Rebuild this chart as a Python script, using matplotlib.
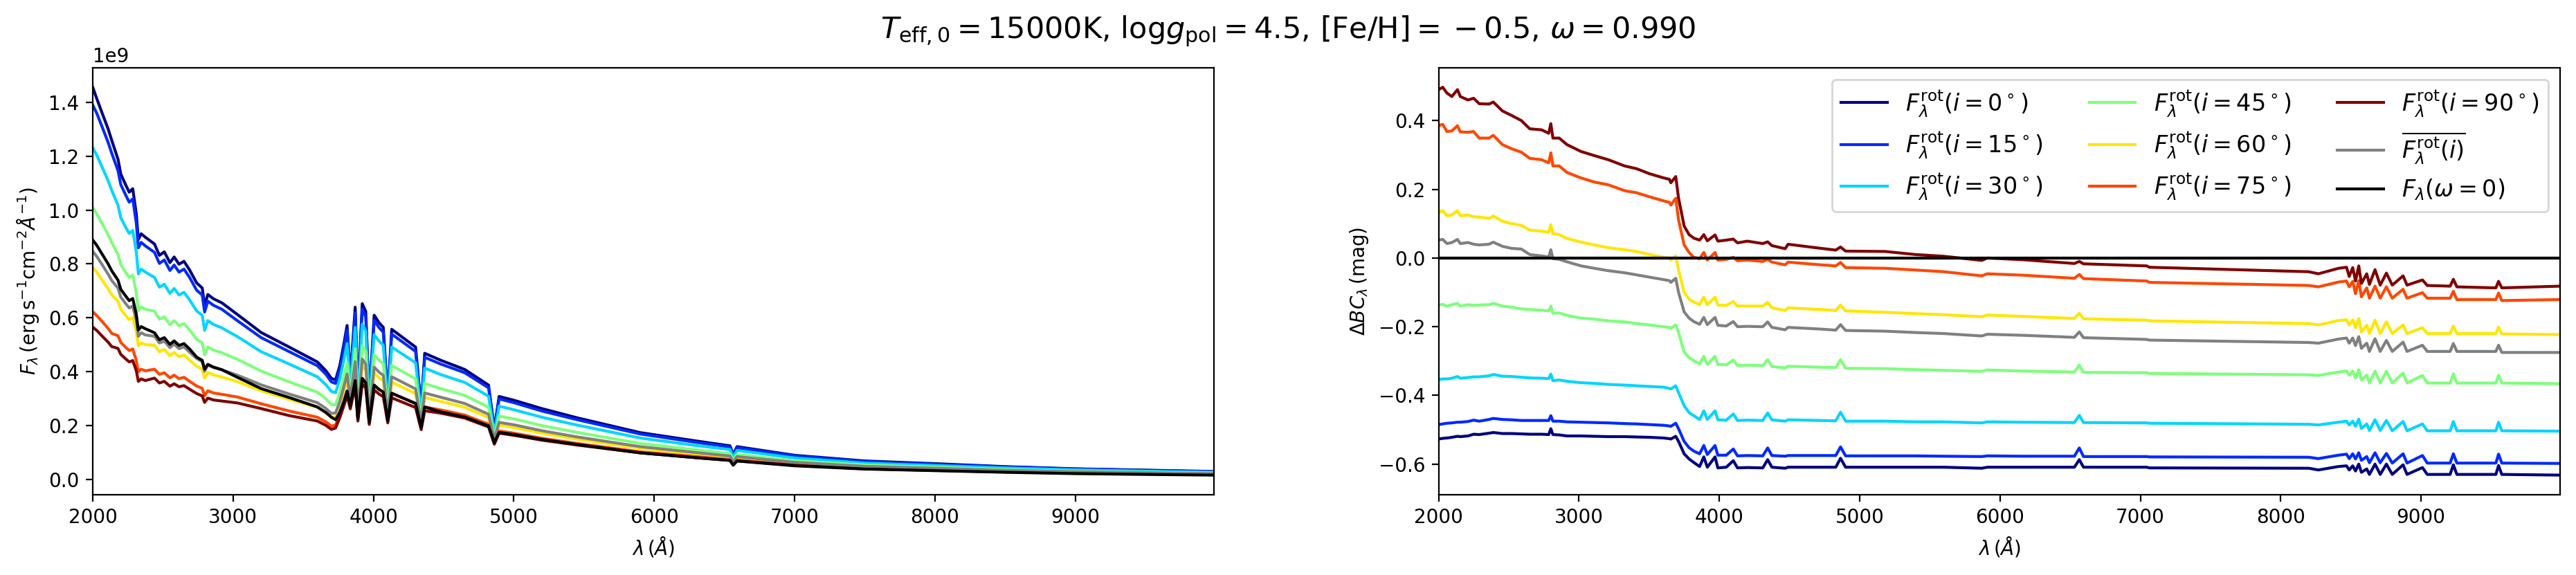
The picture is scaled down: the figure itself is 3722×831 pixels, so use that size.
import matplotlib
matplotlib.use("Agg")
import matplotlib.pyplot as plt
import numpy as np

# ---------------- left panel: fluxes (units of 1e9) ----------------
lam_f = [2000, 2030, 2070, 2110, 2135, 2180, 2200, 2235, 2260, 2285,
         2310, 2325, 2345, 2375, 2440, 2475, 2510, 2550, 2580, 2615,
         2650, 2690, 2740, 2780, 2797, 2820, 2860, 2920, 3030, 3200,
         3400, 3600, 3660, 3700, 3730, 3760, 3790, 3812, 3835, 3870,
         3889, 3920, 3945, 3970, 4005, 4040, 4070, 4102, 4130, 4300,
         4340, 4365, 4480, 4650, 4820, 4861, 4895, 5000, 5200, 5450,
         5900, 6300, 6540, 6563, 6590, 7000, 7500, 8000, 8500, 9000,
         9500, 9990]

f_i0 = [1.455, 1.411, 1.355, 1.300, 1.259, 1.188, 1.133, 1.093, 1.066, 1.079,
        0.987, 0.891, 0.912, 0.899, 0.874, 0.832, 0.845, 0.805, 0.826, 0.799,
        0.810, 0.778, 0.730, 0.711, 0.646, 0.687, 0.671, 0.656, 0.613, 0.546,
        0.492, 0.437, 0.405, 0.376, 0.370, 0.423, 0.506, 0.572, 0.375, 0.640,
        0.311, 0.653, 0.624, 0.293, 0.610, 0.582, 0.565, 0.301, 0.558, 0.492,
        0.266, 0.469, 0.443, 0.409, 0.351, 0.189, 0.309, 0.295, 0.264, 0.230,
        0.175, 0.144, 0.126, 0.094, 0.123, 0.091, 0.070, 0.060, 0.049, 0.041,
        0.036, 0.031]
f_i15 = [1.389, 1.357, 1.304, 1.250, 1.211, 1.146, 1.094, 1.055, 1.029, 1.041,
         0.953, 0.860, 0.880, 0.867, 0.843, 0.802, 0.815, 0.776, 0.796, 0.770,
         0.781, 0.750, 0.703, 0.685, 0.622, 0.662, 0.647, 0.632, 0.590, 0.527,
         0.475, 0.423, 0.392, 0.363, 0.357, 0.409, 0.490, 0.554, 0.367, 0.619,
         0.304, 0.633, 0.604, 0.287, 0.591, 0.564, 0.547, 0.295, 0.540, 0.476,
         0.260, 0.454, 0.429, 0.397, 0.341, 0.185, 0.300, 0.286, 0.255, 0.223,
         0.170, 0.139, 0.122, 0.091, 0.119, 0.089, 0.068, 0.058, 0.048, 0.040,
         0.035, 0.030]
f_i30 = [1.231, 1.202, 1.155, 1.108, 1.073, 1.018, 0.971, 0.936, 0.913, 0.924,
         0.846, 0.763, 0.781, 0.770, 0.750, 0.714, 0.725, 0.691, 0.709, 0.685,
         0.695, 0.667, 0.626, 0.610, 0.554, 0.590, 0.576, 0.563, 0.531, 0.475,
         0.429, 0.382, 0.353, 0.328, 0.323, 0.372, 0.446, 0.505, 0.343, 0.565,
         0.284, 0.577, 0.551, 0.268, 0.538, 0.514, 0.499, 0.275, 0.492, 0.434,
         0.243, 0.414, 0.390, 0.361, 0.310, 0.173, 0.273, 0.260, 0.232, 0.203,
         0.155, 0.127, 0.112, 0.083, 0.109, 0.081, 0.062, 0.053, 0.044, 0.037,
         0.032, 0.028]
f_i45 = [1.009, 0.985, 0.947, 0.908, 0.880, 0.835, 0.797, 0.769, 0.750, 0.759,
         0.694, 0.627, 0.641, 0.632, 0.625, 0.595, 0.604, 0.575, 0.590, 0.571,
         0.579, 0.556, 0.521, 0.508, 0.463, 0.492, 0.481, 0.471, 0.447, 0.403,
         0.363, 0.325, 0.301, 0.279, 0.278, 0.322, 0.385, 0.435, 0.315, 0.486,
         0.261, 0.497, 0.475, 0.246, 0.464, 0.443, 0.430, 0.253, 0.424, 0.374,
         0.223, 0.357, 0.338, 0.313, 0.269, 0.159, 0.236, 0.226, 0.201, 0.176,
         0.135, 0.111, 0.097, 0.072, 0.094, 0.071, 0.055, 0.047, 0.038, 0.032,
         0.028, 0.025]
f_i60 = [0.787, 0.768, 0.738, 0.708, 0.686, 0.662, 0.632, 0.609, 0.594, 0.601,
         0.550, 0.497, 0.508, 0.501, 0.499, 0.475, 0.483, 0.460, 0.472, 0.456,
         0.463, 0.444, 0.421, 0.410, 0.377, 0.398, 0.389, 0.381, 0.364, 0.330,
         0.298, 0.269, 0.250, 0.232, 0.234, 0.274, 0.329, 0.371, 0.290, 0.415,
         0.241, 0.425, 0.405, 0.227, 0.396, 0.378, 0.367, 0.233, 0.362, 0.320,
         0.206, 0.305, 0.291, 0.269, 0.231, 0.146, 0.203, 0.194, 0.173, 0.151,
         0.117, 0.096, 0.084, 0.063, 0.082, 0.062, 0.048, 0.040, 0.033, 0.028,
         0.025, 0.021]
f_i75 = [0.623, 0.608, 0.585, 0.561, 0.543, 0.534, 0.509, 0.491, 0.479, 0.485,
         0.443, 0.400, 0.410, 0.404, 0.410, 0.391, 0.397, 0.378, 0.388, 0.375,
         0.380, 0.365, 0.348, 0.339, 0.312, 0.330, 0.322, 0.317, 0.307, 0.282,
         0.255, 0.232, 0.215, 0.199, 0.203, 0.242, 0.291, 0.329, 0.271, 0.368,
         0.225, 0.376, 0.359, 0.212, 0.351, 0.335, 0.325, 0.218, 0.321, 0.283,
         0.192, 0.270, 0.259, 0.240, 0.206, 0.137, 0.181, 0.173, 0.154, 0.135,
         0.104, 0.086, 0.075, 0.057, 0.073, 0.056, 0.043, 0.037, 0.030, 0.026,
         0.022, 0.020]
f_i90 = [0.566, 0.553, 0.531, 0.510, 0.494, 0.487, 0.465, 0.448, 0.437, 0.442,
         0.405, 0.365, 0.374, 0.368, 0.377, 0.359, 0.365, 0.347, 0.356, 0.345,
         0.349, 0.336, 0.320, 0.311, 0.287, 0.303, 0.296, 0.292, 0.285, 0.264,
         0.238, 0.218, 0.202, 0.187, 0.192, 0.230, 0.276, 0.312, 0.263, 0.349,
         0.218, 0.356, 0.340, 0.205, 0.333, 0.318, 0.308, 0.211, 0.304, 0.268,
         0.186, 0.256, 0.247, 0.229, 0.196, 0.132, 0.173, 0.165, 0.147, 0.129,
         0.100, 0.082, 0.072, 0.054, 0.070, 0.054, 0.041, 0.035, 0.029, 0.025,
         0.022, 0.019]
f_mean = [0.847, 0.827, 0.795, 0.762, 0.739, 0.710, 0.677, 0.653, 0.637, 0.644,
          0.590, 0.532, 0.545, 0.537, 0.532, 0.507, 0.514, 0.490, 0.503, 0.486,
          0.493, 0.473, 0.450, 0.438, 0.402, 0.426, 0.416, 0.408, 0.388, 0.352,
          0.318, 0.286, 0.265, 0.246, 0.248, 0.289, 0.347, 0.392, 0.299, 0.438,
          0.247, 0.448, 0.428, 0.233, 0.418, 0.399, 0.387, 0.240, 0.382, 0.337,
          0.211, 0.322, 0.306, 0.283, 0.243, 0.150, 0.213, 0.204, 0.182, 0.159,
          0.123, 0.101, 0.088, 0.066, 0.086, 0.065, 0.050, 0.043, 0.035, 0.030,
          0.026, 0.023]
f_norot = [0.889, 0.868, 0.834, 0.800, 0.775, 0.740, 0.706, 0.681, 0.664, 0.672,
           0.615, 0.555, 0.568, 0.560, 0.545, 0.519, 0.527, 0.502, 0.515, 0.498,
           0.505, 0.485, 0.455, 0.443, 0.410, 0.428, 0.418, 0.408, 0.380, 0.338,
           0.305, 0.270, 0.250, 0.232, 0.223, 0.250, 0.291, 0.329, 0.274, 0.368,
           0.227, 0.376, 0.359, 0.214, 0.351, 0.335, 0.325, 0.220, 0.321, 0.283,
           0.194, 0.270, 0.252, 0.233, 0.200, 0.138, 0.176, 0.168, 0.150, 0.131,
           0.100, 0.082, 0.072, 0.055, 0.070, 0.052, 0.040, 0.034, 0.028, 0.023,
           0.020, 0.0175]

# ---------------- right panel: Delta BC (mag) ----------------
lam_bc = [2000, 2030, 2060, 2095, 2135, 2155, 2210, 2250, 2290, 2360,
          2390, 2455, 2520, 2590, 2650, 2735, 2785, 2800, 2815, 2860,
          2915, 3015, 3110, 3210, 3325, 3410, 3505, 3605, 3645, 3655,
          3690, 3710, 3750, 3785, 3818, 3860, 3890, 3915, 3970, 3990,
          4050, 4100, 4130, 4200, 4310, 4345, 4375, 4470, 4490, 4725,
          4830, 4864, 4900, 5180, 5400, 5600, 5870, 5910, 6160, 6530,
          6565, 6595, 7045, 7065, 8200, 8268, 8412, 8469, 8488, 8513,
          8533, 8556, 8575, 8613, 8632, 8672, 8709, 8753, 8795, 8872,
          8900, 9010, 9044, 9207, 9230, 9255, 9533, 9552, 9575, 9990]

bc_i0 = [-0.527, -0.525, -0.524, -0.522, -0.519, -0.520, -0.518, -0.513, -0.514, -0.510,
         -0.508, -0.511, -0.511, -0.512, -0.513, -0.513, -0.514, -0.497, -0.514, -0.515,
         -0.518, -0.518, -0.519, -0.520, -0.520, -0.521, -0.522, -0.524, -0.526, -0.527,
         -0.519, -0.534, -0.570, -0.585, -0.595, -0.607, -0.579, -0.609, -0.579, -0.611,
         -0.609, -0.590, -0.611, -0.610, -0.611, -0.587, -0.609, -0.612, -0.609, -0.609,
         -0.609, -0.583, -0.609, -0.609, -0.609, -0.609, -0.612, -0.609, -0.609, -0.609,
         -0.587, -0.609, -0.609, -0.611, -0.612, -0.617, -0.607, -0.605, -0.617, -0.605,
         -0.620, -0.600, -0.624, -0.614, -0.630, -0.600, -0.630, -0.600, -0.630, -0.602,
         -0.630, -0.610, -0.630, -0.630, -0.602, -0.630, -0.630, -0.604, -0.630, -0.632]
bc_i15 = [-0.485, -0.483, -0.481, -0.480, -0.478, -0.478, -0.476, -0.472, -0.475, -0.470,
          -0.467, -0.470, -0.471, -0.473, -0.473, -0.473, -0.473, -0.459, -0.475, -0.475,
          -0.477, -0.478, -0.479, -0.480, -0.482, -0.483, -0.485, -0.487, -0.489, -0.490,
          -0.481, -0.497, -0.534, -0.552, -0.562, -0.570, -0.546, -0.572, -0.546, -0.574,
          -0.574, -0.556, -0.576, -0.575, -0.576, -0.553, -0.575, -0.577, -0.575, -0.575,
          -0.575, -0.550, -0.576, -0.576, -0.576, -0.577, -0.578, -0.576, -0.577, -0.577,
          -0.553, -0.578, -0.578, -0.579, -0.580, -0.584, -0.574, -0.571, -0.584, -0.570,
          -0.585, -0.567, -0.589, -0.578, -0.596, -0.567, -0.596, -0.569, -0.597, -0.570,
          -0.597, -0.575, -0.597, -0.597, -0.570, -0.597, -0.597, -0.571, -0.597, -0.598]
bc_i30 = [-0.354, -0.352, -0.352, -0.350, -0.345, -0.350, -0.348, -0.346, -0.346, -0.343,
          -0.339, -0.344, -0.345, -0.347, -0.349, -0.350, -0.351, -0.338, -0.357, -0.355,
          -0.359, -0.363, -0.365, -0.368, -0.370, -0.372, -0.374, -0.376, -0.380, -0.381,
          -0.372, -0.392, -0.430, -0.450, -0.459, -0.470, -0.445, -0.470, -0.445, -0.471,
          -0.472, -0.454, -0.473, -0.472, -0.473, -0.451, -0.471, -0.475, -0.471, -0.473,
          -0.474, -0.449, -0.475, -0.475, -0.477, -0.477, -0.480, -0.477, -0.478, -0.479,
          -0.458, -0.479, -0.480, -0.481, -0.484, -0.486, -0.478, -0.475, -0.486, -0.475,
          -0.490, -0.469, -0.496, -0.483, -0.502, -0.471, -0.502, -0.473, -0.503, -0.476,
          -0.503, -0.483, -0.503, -0.503, -0.476, -0.503, -0.503, -0.478, -0.503, -0.504]
bc_i45 = [-0.138, -0.135, -0.140, -0.136, -0.132, -0.140, -0.136, -0.138, -0.137, -0.136,
          -0.132, -0.140, -0.143, -0.148, -0.150, -0.152, -0.154, -0.140, -0.161, -0.160,
          -0.167, -0.175, -0.178, -0.183, -0.186, -0.191, -0.195, -0.200, -0.202, -0.205,
          -0.195, -0.217, -0.274, -0.290, -0.299, -0.308, -0.286, -0.310, -0.286, -0.310,
          -0.311, -0.297, -0.313, -0.312, -0.313, -0.296, -0.316, -0.320, -0.315, -0.318,
          -0.319, -0.296, -0.321, -0.322, -0.325, -0.327, -0.330, -0.326, -0.329, -0.332,
          -0.312, -0.333, -0.334, -0.336, -0.340, -0.342, -0.332, -0.329, -0.341, -0.329,
          -0.349, -0.325, -0.355, -0.341, -0.364, -0.329, -0.364, -0.330, -0.364, -0.335,
          -0.364, -0.342, -0.364, -0.364, -0.337, -0.364, -0.364, -0.341, -0.364, -0.366]
bc_i60 = [0.133, 0.138, 0.123, 0.125, 0.138, 0.123, 0.125, 0.120, 0.119, 0.115,
          0.122, 0.107, 0.100, 0.095, 0.081, 0.078, 0.075, 0.097, 0.071, 0.068,
          0.057, 0.046, 0.038, 0.030, 0.024, 0.019, 0.010, 0.002, 0.000, -0.006,
          0.006, -0.035, -0.100, -0.120, -0.128, -0.136, -0.114, -0.136, -0.114, -0.137,
          -0.138, -0.127, -0.140, -0.140, -0.140, -0.129, -0.145, -0.153, -0.145, -0.150,
          -0.153, -0.137, -0.154, -0.158, -0.162, -0.165, -0.171, -0.166, -0.170, -0.176,
          -0.161, -0.177, -0.181, -0.183, -0.191, -0.195, -0.182, -0.180, -0.195, -0.180,
          -0.203, -0.176, -0.215, -0.196, -0.220, -0.181, -0.220, -0.186, -0.220, -0.195,
          -0.220, -0.203, -0.220, -0.220, -0.198, -0.220, -0.220, -0.201, -0.221, -0.223]
bc_i75 = [0.385, 0.389, 0.368, 0.370, 0.385, 0.367, 0.366, 0.368, 0.349, 0.349,
          0.357, 0.330, 0.318, 0.308, 0.290, 0.286, 0.277, 0.306, 0.268, 0.268,
          0.249, 0.233, 0.221, 0.213, 0.196, 0.190, 0.178, 0.166, 0.162, 0.154,
          0.174, 0.111, 0.038, 0.016, 0.002, -0.002, 0.016, -0.006, 0.016, -0.006,
          -0.004, 0.002, -0.008, -0.006, -0.010, -0.004, -0.012, -0.020, -0.012, -0.020,
          -0.023, -0.013, -0.028, -0.030, -0.035, -0.040, -0.052, -0.046, -0.050, -0.059,
          -0.048, -0.060, -0.067, -0.071, -0.080, -0.084, -0.070, -0.067, -0.084, -0.068,
          -0.104, -0.066, -0.113, -0.087, -0.117, -0.082, -0.117, -0.084, -0.117, -0.091,
          -0.117, -0.101, -0.117, -0.117, -0.097, -0.121, -0.121, -0.102, -0.124, -0.121]
bc_i90 = [0.490, 0.497, 0.480, 0.470, 0.490, 0.470, 0.460, 0.465, 0.449, 0.448,
          0.454, 0.428, 0.415, 0.400, 0.376, 0.373, 0.363, 0.391, 0.349, 0.349,
          0.330, 0.310, 0.298, 0.286, 0.268, 0.260, 0.245, 0.233, 0.229, 0.219,
          0.237, 0.174, 0.093, 0.068, 0.058, 0.052, 0.068, 0.050, 0.067, 0.049,
          0.052, 0.055, 0.044, 0.049, 0.042, 0.047, 0.036, 0.027, 0.040, 0.028,
          0.023, 0.032, 0.020, 0.019, 0.010, 0.005, -0.007, 0.000, -0.005, -0.016,
          -0.010, -0.017, -0.023, -0.027, -0.040, -0.046, -0.030, -0.027, -0.054, -0.028,
          -0.067, -0.023, -0.074, -0.046, -0.077, -0.034, -0.079, -0.044, -0.079, -0.052,
          -0.079, -0.064, -0.080, -0.082, -0.062, -0.084, -0.087, -0.068, -0.087, -0.082]
bc_mean = [0.052, 0.054, 0.042, 0.045, 0.054, 0.042, 0.045, 0.040, 0.038, 0.040,
           0.046, 0.034, 0.028, 0.026, 0.010, 0.006, 0.003, 0.024, -0.002, -0.004,
           -0.011, -0.023, -0.030, -0.037, -0.043, -0.049, -0.056, -0.063, -0.066, -0.071,
           -0.059, -0.100, -0.157, -0.175, -0.185, -0.193, -0.173, -0.194, -0.173, -0.196,
           -0.198, -0.185, -0.200, -0.199, -0.200, -0.186, -0.202, -0.209, -0.202, -0.207,
           -0.210, -0.194, -0.211, -0.213, -0.217, -0.220, -0.227, -0.222, -0.225, -0.231,
           -0.215, -0.232, -0.237, -0.239, -0.246, -0.248, -0.236, -0.233, -0.248, -0.233,
           -0.255, -0.229, -0.263, -0.248, -0.272, -0.235, -0.272, -0.240, -0.272, -0.245,
           -0.272, -0.254, -0.272, -0.272, -0.249, -0.272, -0.272, -0.254, -0.275, -0.275]

incl_labels = [r'$F^{\rm rot}_\lambda(i=0^\circ)$', r'$F^{\rm rot}_\lambda(i=15^\circ)$',
               r'$F^{\rm rot}_\lambda(i=30^\circ)$', r'$F^{\rm rot}_\lambda(i=45^\circ)$',
               r'$F^{\rm rot}_\lambda(i=60^\circ)$', r'$F^{\rm rot}_\lambda(i=75^\circ)$',
               r'$F^{\rm rot}_\lambda(i=90^\circ)$']
mean_label = r'$\overline{F^{\rm rot}_\lambda(i)}$'
norot_label = r'$F_\lambda(\omega=0)$'

flux_sets = [f_i0, f_i15, f_i30, f_i45, f_i60, f_i75, f_i90]
bc_sets = [bc_i0, bc_i15, bc_i30, bc_i45, bc_i60, bc_i75, bc_i90]
colors = plt.cm.jet(np.linspace(0, 1, len(incl_labels)))

fig, (ax1, ax2) = plt.subplots(1, 2, figsize=(18.61, 4.155), dpi=200)
fig.subplots_adjust(left=0.036, right=0.9938, bottom=0.14, top=0.882, wspace=0.2)

#left: fluxes
for f, c, lab in zip(flux_sets, colors, incl_labels):
    ax1.plot(lam_f, np.array(f) * 1e9, color=c, lw=1.5, label=lab)
ax1.plot(lam_f, np.array(f_mean) * 1e9, color='gray', lw=1.5, label=mean_label)
ax1.plot(lam_f, np.array(f_norot) * 1e9, color='k', lw=1.5, label=norot_label)
ax1.set_xlim(2000, 9990)
ax1.set_xlabel(r'$\lambda\,(\AA)$')
ax1.set_ylabel(r'$F_\lambda\,(\mathrm{erg\,s^{-1}cm^{-2}}\AA^{-1})$')

#right: bolometric correction differences
for b, c, lab in zip(bc_sets, colors, incl_labels):
    ax2.plot(lam_bc, b, color=c, lw=1.5, label=lab)
ax2.plot(lam_bc, bc_mean, color='gray', lw=1.5, label=mean_label)
ax2.axhline(0, color='k', lw=1.5, label=norot_label)
ax2.set_xlim(2000, 9990)
ax2.set_xlabel(r'$\lambda\,(\AA)$')
ax2.set_ylabel(r'$\Delta BC_\lambda\,(\mathrm{mag})$')
ax2.legend(loc='upper right', ncol=3, fontsize=12)

fig.suptitle(r'$T_{\rm eff,0}=15000{\rm K}$, ${\rm log}g_{\rm pol}=4.5$, $[{\rm Fe/H}]={}-0.5$, $\omega=0.990$',
             fontsize=15.5, y=0.975)

fig.savefig('out.png', dpi=200)
